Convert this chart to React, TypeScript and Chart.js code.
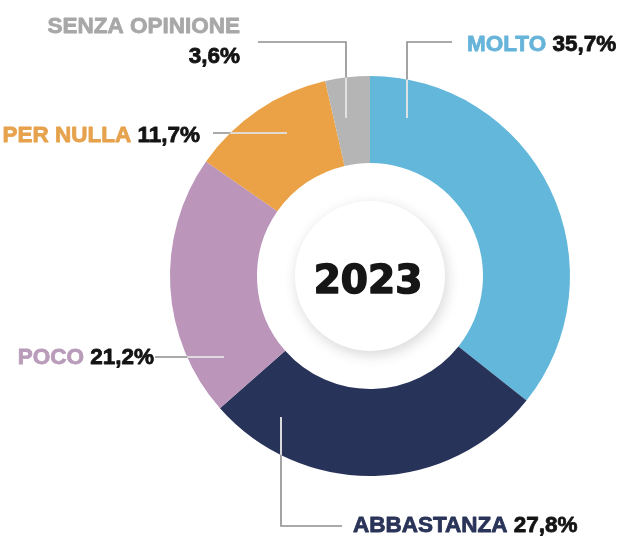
import React, { useEffect, useRef } from "react";
import { Chart, registerables } from "chart.js";

Chart.register(...registerables);

// ---- data ----
const categories = ["MOLTO", "ABBASTANZA", "POCO", "PER NULLA", "SENZA OPINIONE"];
const values = [35.7, 27.8, 21.2, 11.7, 3.6];
const sliceColors = ["#62B7DB", "#28335A", "#BB95BA", "#EBA145", "#B5B5B5"];
const labelColors = ["#66B4D9", "#2A3459", "#B99BBA", "#E6A24D", "#A8A8A8"];
const centerTitle = "2023";

// ---- label layout (offsets from the doughnut centre) ----
type Pt = [number, number];
type LabelLayout = {
  x: number;
  y: number;
  align: "left" | "right";
  stacked?: boolean;
  y2?: number;
  leader: Pt[];
};
const labelLayout: LabelLayout[] = [
  { x: 97, y: -225, align: "left", leader: [[82, -234], [37, -234], [37, -158]] },
  { x: -17, y: 256, align: "left", leader: [[-28, 250], [-89, 250], [-89, 141]] },
  { x: -216, y: 88, align: "right", leader: [[-215, 81], [-146, 81]] },
  { x: -170, y: -134, align: "right", leader: [[-157, -143], [-83, -143]] },
  { x: -130, y: -243, y2: -213, align: "right", stacked: true, leader: [[-112, -234], [-24, -234], [-24, -158]] },
];

const fmt = (v: number) => v.toFixed(1).replace(".", ",") + "%";

const LABEL_FONT = "bold 22.5px 'Liberation Sans', Arial, sans-serif";

const decorPlugin = {
  id: "decor",
  afterDatasetsDraw(chart: any) {
    const meta = chart.getDatasetMeta(0);
    const arc0 = meta.data[0] as any;
    if (!arc0) return;
    const cx = arc0.x;
    const cy = arc0.y;
    const outerR = arc0.outerRadius;
    const ctx = chart.ctx as CanvasRenderingContext2D;

    // leader lines
    labelLayout.forEach((l) => {
      const path = () => {
        ctx.beginPath();
        l.leader.forEach((p, i) => {
          if (i === 0) ctx.moveTo(cx + p[0], cy + p[1]);
          else ctx.lineTo(cx + p[0], cy + p[1]);
        });
      };
      ctx.save();
      ctx.lineWidth = 1.6;
      ctx.strokeStyle = "#8E8E8E";
      ctx.lineJoin = "miter";
      path();
      ctx.stroke();
      ctx.beginPath();
      ctx.arc(cx, cy, outerR, 0, Math.PI * 2);
      ctx.clip();
      ctx.strokeStyle = "rgba(255,255,255,0.9)";
      path();
      ctx.stroke();
      ctx.restore();
    });

    // labels
    const drawText = (t: string, x: number, y: number, color: string) => {
      ctx.fillStyle = color;
      ctx.strokeStyle = color;
      ctx.lineWidth = 0.8;
      ctx.lineJoin = "round";
      ctx.fillText(t, x, y);
      ctx.strokeText(t, x, y);
    };
    ctx.save();
    ctx.font = LABEL_FONT;
    ctx.textBaseline = "alphabetic";
    labelLayout.forEach((l, i) => {
      const name = categories[i];
      const val = fmt(values[i]);
      if (l.stacked) {
        ctx.textAlign = "right";
        drawText(name, cx + l.x, cy + l.y, labelColors[i]);
        drawText(val, cx + l.x, cy + (l.y2 as number), "#141414");
        return;
      }
      ctx.textAlign = "left";
      const wName = ctx.measureText(name + " ").width;
      const wVal = ctx.measureText(val).width;
      const start = l.align === "left" ? cx + l.x : cx + l.x - (wName + wVal);
      drawText(name, start, cy + l.y, labelColors[i]);
      drawText(val, start + wName, cy + l.y, "#141414");
    });
    ctx.restore();

    // centre disc
    const discR = outerR * 0.375;
    ctx.save();
    ctx.shadowColor = "rgba(0,0,0,0.16)";
    ctx.shadowBlur = 14;
    ctx.shadowOffsetX = 2;
    ctx.shadowOffsetY = 4;
    ctx.fillStyle = "#ffffff";
    ctx.beginPath();
    ctx.arc(cx, cy, discR, 0, Math.PI * 2);
    ctx.fill();
    ctx.restore();

    ctx.save();
    ctx.font = "bold 39px 'DejaVu Sans', sans-serif";
    ctx.fillStyle = "#161616";
    ctx.strokeStyle = "#161616";
    ctx.lineWidth = 1.6;
    ctx.lineJoin = "round";
    ctx.textAlign = "center";
    ctx.textBaseline = "alphabetic";
    ctx.fillText(centerTitle, cx - 2, cy + 17);
    ctx.strokeText(centerTitle, cx - 2, cy + 17);
    ctx.restore();
  },
};

export default function App() {
  const canvasRef = useRef<HTMLCanvasElement | null>(null);

  useEffect(() => {
    document.body.style.margin = "0";
    const canvas = canvasRef.current;
    if (!canvas) return;
    const chart = new Chart(canvas, {
      type: "doughnut",
      data: {
        labels: categories,
        datasets: [
          {
            data: values,
            backgroundColor: sliceColors,
            borderWidth: 0,
            hoverOffset: 0,
            offset: 0,
          },
        ],
      },
      options: {
        responsive: false,
        animation: false,
        events: [],
        cutout: "56.5%",
        layout: { padding: { left: 170, right: 54, top: 76, bottom: 60 } },
        plugins: {
          legend: { display: false },
          tooltip: { enabled: false },
        },
      },
      plugins: [decorPlugin],
    });
    return () => chart.destroy();
  }, []);

  return (
    <div style={{ width: 624, height: 536, background: "#ffffff" }}>
      <canvas ref={canvasRef} width={624} height={536} style={{ display: "block" }} />
    </div>
  );
}
